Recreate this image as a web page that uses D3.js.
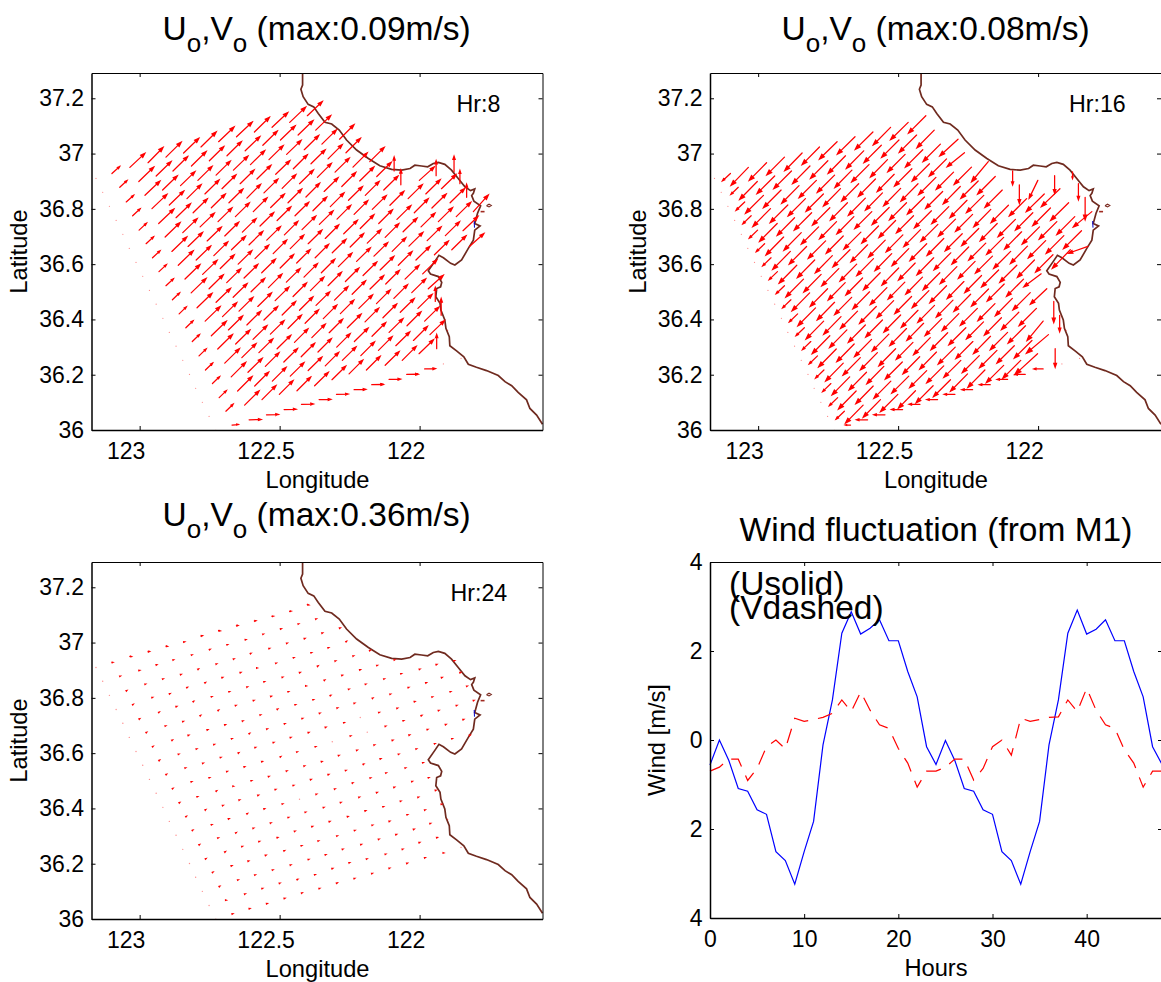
<!DOCTYPE html>
<html>
<head>
<meta charset="utf-8">
<script src="https://cdn.jsdelivr.net/npm/d3@7"></script>
<style>
  body { margin: 0; background: #fff; overflow: hidden; }
  text { font-family: "Liberation Sans", Arial, sans-serif; fill: #000; }
</style>
</head>
<body>
<div id="chart"></div>
<script>
// grid nodes, one list per row (degrees)
var gridLon = [
  [123.156,123.099,123.035,122.970,122.906,122.843,122.781,122.718,122.654,122.590,122.527,122.464,122.401],
  [123.132,123.071,123.003,122.941,122.881,122.815,122.751,122.688,122.623,122.560,122.497,122.434,122.371],
  [123.108,123.048,122.981,122.918,122.854,122.792,122.727,122.665,122.604,122.538,122.475,122.412,122.349,122.286],
  [123.084,123.025,122.956,122.894,122.831,122.767,122.706,122.641,122.581,122.514,122.451,122.388,122.327,122.263],
  [123.060,123.002,122.932,122.870,122.809,122.744,122.681,122.617,122.556,122.491,122.429,122.365,122.302,122.238,122.178],
  [123.037,122.977,122.909,122.846,122.784,122.720,122.658,122.594,122.532,122.470,122.406,122.341,122.278,122.214,122.153,122.091],
  [123.013,122.954,122.885,122.827,122.759,122.696,122.633,122.570,122.509,122.445,122.381,122.319,122.254,122.194,122.128,122.067,122.001,121.941,121.877],
  [122.989,122.931,122.862,122.798,122.735,122.672,122.609,122.546,122.483,122.420,122.358,122.295,122.234,122.169,122.106,122.041,121.978,121.922,121.856],
  [122.965,122.906,122.838,122.775,122.712,122.648,122.588,122.523,122.462,122.398,122.337,122.271,122.212,122.146,122.081,122.019,121.956,121.891,121.832],
  [122.941,122.883,122.816,122.752,122.689,122.627,122.564,122.498,122.439,122.373,122.312,122.248,122.187,122.123,122.059,121.995,121.933,121.869,121.808],
  [122.917,122.859,122.795,122.727,122.666,122.602,122.540,122.476,122.413,122.351,122.290,122.225,122.163,122.098,122.038,121.973,121.908,121.845],
  [122.894,122.835,122.766,122.704,122.645,122.578,122.516,122.452,122.390,122.327,122.265,122.202,122.141,122.076,122.013,121.947,121.885,121.822],
  [122.870,122.812,122.744,122.683,122.617,122.556,122.491,122.429,122.370,122.304,122.241,122.177,122.121,122.052,121.989],
  [122.846,122.788,122.721,122.657,122.595,122.533,122.470,122.409,122.344,122.283,122.217,122.154,122.092,122.028,121.969],
  [122.822,122.765,122.696,122.635,122.574,122.509,122.447,122.385,122.323,122.258,122.195,122.131,122.069,122.006,121.944],
  [122.800,122.740,122.673,122.613,122.551,122.485,122.423,122.363,122.296,122.233,122.170,122.109,122.045,121.982,121.923],
  [122.776,122.716,122.650,122.589,122.526,122.462,122.398,122.337,122.276,122.210,122.147,122.085,122.022,121.963,121.900],
  [122.752,122.692,122.625,122.563,122.501,122.438,122.375,122.313,122.252,122.190,122.123,122.062,122.002,121.939,121.852],
  [122.728,122.670,122.609,122.547,122.484,122.422,122.359,122.297,122.234,122.171,122.109,122.046,121.982,121.915]
];
var gridLat = [
  [36.910,36.928,36.950,36.967,36.987,37.002,37.024,37.043,37.061,37.078,37.095,37.113,37.137],
  [36.860,36.878,36.899,36.919,36.937,36.955,36.974,36.992,37.010,37.030,37.049,37.067,37.085],
  [36.809,36.825,36.849,36.868,36.884,36.903,36.922,36.940,36.960,36.978,36.997,37.014,37.034,37.052],
  [36.758,36.775,36.801,36.814,36.837,36.854,36.873,36.891,36.908,36.925,36.945,36.963,36.981,37.003],
  [36.708,36.723,36.747,36.768,36.786,36.804,36.822,36.839,36.858,36.874,36.891,36.914,36.933,36.951,36.971],
  [36.657,36.674,36.698,36.714,36.735,36.754,36.772,36.790,36.805,36.822,36.843,36.863,36.881,36.901,36.917,36.937],
  [36.606,36.623,36.646,36.664,36.684,36.702,36.716,36.738,36.758,36.775,36.793,36.808,36.831,36.849,36.868,36.887,36.903,36.920,36.934],
  [36.556,36.573,36.596,36.615,36.631,36.652,36.670,36.687,36.706,36.725,36.744,36.763,36.780,36.798,36.813,36.837,36.854,36.873,36.891],
  [36.505,36.522,36.546,36.563,36.584,36.600,36.620,36.638,36.656,36.674,36.693,36.710,36.729,36.747,36.762,36.786,36.803,36.822,36.842],
  [36.455,36.471,36.496,36.511,36.533,36.550,36.569,36.586,36.604,36.623,36.641,36.662,36.676,36.697,36.717,36.735,36.754,36.772,36.790],
  [36.404,36.420,36.442,36.462,36.480,36.500,36.515,36.535,36.553,36.569,36.591,36.610,36.629,36.646,36.665,36.685,36.703,36.721],
  [36.353,36.370,36.394,36.410,36.430,36.447,36.468,36.483,36.504,36.522,36.537,36.559,36.579,36.596,36.615,36.634,36.652,36.664],
  [36.303,36.320,36.341,36.362,36.380,36.398,36.416,36.433,36.451,36.470,36.491,36.510,36.528,36.546,36.565],
  [36.252,36.268,36.293,36.311,36.328,36.347,36.367,36.386,36.403,36.421,36.440,36.457,36.476,36.497,36.511],
  [36.201,36.217,36.242,36.262,36.280,36.294,36.317,36.334,36.352,36.370,36.391,36.406,36.426,36.440,36.465],
  [36.151,36.168,36.192,36.209,36.230,36.246,36.265,36.282,36.300,36.320,36.339,36.353,36.377,36.394,36.415],
  [36.100,36.117,36.141,36.159,36.177,36.195,36.215,36.232,36.252,36.269,36.288,36.305,36.324,36.345,36.360],
  [36.049,36.068,36.090,36.110,36.129,36.142,36.160,36.182,36.203,36.217,36.234,36.252,36.276,36.294,36.259],
  [35.999,36.018,36.037,36.055,36.074,36.093,36.110,36.129,36.146,36.164,36.183,36.201,36.221,36.239]
];

// currents at hour 8 (mm/s, u towards the right of the map, v up)
var u8 = [
  [0,31,60,60,61,61,61,62,63,60,63,64,60],
  [0,29,60,60,59,59,58,58,59,58,59,60,60],
  [0,30,60,59,58,57,57,58,57,57,58,58,58,58],
  [0,30,60,58,57,57,56,56,56,57,56,57,57,58],
  [0,30,61,58,57,56,56,55,56,55,56,56,57,57,58],
  [0,30,60,58,57,56,56,55,55,55,55,56,56,57,58,0],
  [0,30,60,58,57,56,55,55,55,55,55,55,56,56,57,0,60,0,0],
  [0,30,60,58,56,56,55,55,54,55,55,55,55,56,56,57,58,58,0],
  [0,30,60,58,56,55,55,54,54,55,54,55,55,55,56,56,57,58,0],
  [0,29,60,57,56,55,55,54,54,54,55,54,55,55,56,56,57,58,60],
  [0,29,60,58,56,55,54,55,54,54,54,55,55,55,56,56,57,60],
  [0,29,60,57,56,55,55,54,54,54,54,55,55,55,56,56,57,58],
  [0,29,60,57,56,55,54,54,55,54,54,55,55,56,57],
  [0,29,59,57,56,55,54,54,54,54,55,55,55,56,60],
  [0,29,59,57,56,55,54,54,54,55,55,55,56,57,0],
  [0,29,58,57,55,55,54,54,54,55,55,56,56,57,0],
  [0,29,58,56,55,55,55,54,55,55,55,56,56,58,0],
  [0,29,58,56,55,55,55,55,55,55,56,56,58,0,0],
  [0,25,48,48,48,48,47,47,47,47,46,46,43,0]
];
var v8 = [
  [0,28,56,61,60,59,60,59,59,59,59,61,57],
  [0,27,58,58,58,58,57,57,57,57,57,58,58],
  [0,27,57,57,56,56,56,56,56,56,56,57,57,58],
  [0,28,57,56,56,56,55,55,55,55,56,56,57,58],
  [0,28,58,56,56,55,55,55,55,55,55,56,56,57,57],
  [0,28,58,56,55,55,55,55,54,55,55,55,56,56,57,56],
  [0,28,58,56,55,55,54,54,54,54,55,55,55,56,56,60,54,60,63],
  [0,28,58,56,55,54,54,54,54,54,54,55,55,55,56,56,57,56,53],
  [0,28,58,56,55,54,54,54,54,54,54,54,55,55,55,56,56,57,52],
  [0,28,58,56,55,54,54,54,54,54,54,54,54,55,55,55,56,57,67],
  [0,28,58,56,55,54,54,54,54,54,54,54,54,55,55,55,56,57],
  [0,28,58,56,55,54,54,54,54,54,54,54,54,55,55,55,56,52],
  [0,28,58,56,55,54,54,54,54,54,54,54,55,55,56],
  [0,28,58,56,55,54,54,54,54,54,54,55,55,55,54],
  [0,28,58,56,55,54,54,54,54,54,55,55,55,56,56],
  [0,28,58,56,55,54,54,54,54,54,55,55,56,56,67],
  [0,28,58,56,55,54,54,54,54,55,55,55,56,56,0],
  [0,28,57,56,55,55,54,54,55,55,55,56,56,57,0],
  [0,2,1,1,1,1,1,1,1,1,1,1,1,0]
];

// currents at hour 16
var u16 = [
  [0,-26,-56,-56,-57,-56,-56,-57,-57,-57,-56,-57,-56],
  [0,-24,-57,-57,-57,-56,-56,-56,-56,-56,-56,-56,-56],
  [0,-28,-58,-57,-56,-56,-56,-55,-56,-55,-56,-56,-56,-59],
  [0,-27,-57,-57,-56,-56,-55,-55,-55,-55,-56,-56,-56,-56],
  [0,-27,-57,-56,-56,-56,-55,-55,-55,-55,-55,-56,-56,-56,-54],
  [0,-27,-57,-56,-56,-55,-55,-55,-55,-55,-55,-55,-55,-56,-57,0],
  [0,-27,-57,-56,-56,-55,-55,-54,-54,-55,-55,-55,-55,-56,-56,0,-28,0,0],
  [0,-27,-57,-56,-55,-55,-54,-54,-54,-54,-55,-55,-55,-55,-56,-56,-58,-60,0],
  [0,-27,-57,-56,-55,-54,-54,-54,-54,-54,-54,-55,-55,-55,-56,-56,-57,-58,0],
  [0,-27,-57,-56,-55,-54,-54,-54,-54,-54,-54,-54,-55,-55,-55,-56,-57,-58,-60],
  [0,-27,-57,-56,-55,-54,-54,-54,-54,-54,-54,-54,-55,-55,-55,-56,-57,-58],
  [0,-27,-57,-56,-55,-54,-54,-54,-54,-54,-54,-54,-55,-55,-55,-56,-58,-63],
  [0,-27,-57,-56,-55,-54,-54,-54,-54,-54,-54,-55,-55,-55,-56],
  [0,-27,-57,-56,-55,-54,-54,-54,-54,-54,-55,-55,-55,-56,-53],
  [0,-27,-57,-56,-55,-54,-54,-54,-54,-55,-55,-55,-56,-56,0],
  [0,-27,-57,-56,-55,-55,-54,-54,-55,-55,-55,-56,-56,-52,0],
  [0,-27,-57,-56,-55,-55,-55,-55,-55,-55,-56,-56,-57,-71,0],
  [0,-27,-57,-56,-56,-55,-55,-55,-55,-55,-56,-58,-73,0,0],
  [0,-17,-36,-36,-36,-35,-35,-35,-35,-35,-34,-33,-30,0]
];
var v16 = [
  [0,-24,-58,-57,-57,-57,-57,-56,-56,-56,-57,-56,-56],
  [0,-23,-58,-57,-57,-57,-57,-57,-57,-56,-56,-56,-57],
  [0,-27,-58,-57,-57,-56,-56,-56,-56,-56,-56,-56,-56,-54],
  [0,-26,-58,-57,-56,-56,-56,-56,-56,-56,-56,-56,-56,-45],
  [0,-26,-58,-57,-56,-56,-56,-56,-56,-56,-56,-56,-56,-56,-65],
  [0,-26,-58,-57,-56,-56,-56,-55,-55,-55,-55,-55,-56,-56,-57,-45],
  [0,-26,-58,-57,-56,-56,-55,-55,-55,-55,-55,-55,-56,-56,-56,-60,-58,-57,-22],
  [0,-26,-58,-57,-56,-55,-55,-55,-55,-55,-55,-55,-55,-56,-56,-56,-57,-58,-52],
  [0,-26,-58,-57,-56,-55,-55,-55,-55,-55,-55,-55,-55,-56,-56,-56,-57,-57,-73],
  [0,-26,-58,-57,-56,-55,-55,-55,-55,-55,-55,-55,-55,-55,-56,-56,-57,-58,-50],
  [0,-26,-58,-57,-56,-55,-55,-55,-55,-55,-55,-55,-55,-55,-56,-56,-57,-58],
  [0,-26,-58,-57,-56,-55,-55,-55,-55,-55,-55,-55,-55,-55,-56,-56,-60,-22],
  [0,-26,-58,-57,-56,-55,-55,-55,-55,-55,-55,-55,-55,-56,-42],
  [0,-26,-58,-57,-56,-55,-55,-55,-55,-55,-55,-55,-56,-56,-50],
  [0,-26,-58,-57,-56,-55,-55,-55,-55,-55,-55,-56,-56,-56,-68],
  [0,-26,-58,-57,-56,-55,-55,-55,-55,-55,-56,-56,-56,-63,-53],
  [0,-26,-58,-57,-56,-55,-55,-55,-55,-55,-56,-56,-57,-60,0],
  [0,-26,-58,-57,-56,-56,-55,-55,-56,-56,-56,-58,-67,-60,0],
  [0,0,0,0,0,0,0,0,0,0,0,0,0,0]
];

// currents at hour 24 (slack water, barely more than dots)
var u24 = [
  [0,6,9,8,8,6,8,9,8,8,8,8,8],
  [0,3,5,3,3,3,4,3,4,3,4,3,3],
  [0,3,3,3,3,3,3,3,2,3,3,3,3,3],
  [0,3,3,4,2,3,3,3,1,3,3,3,3,3],
  [0,3,3,3,3,3,3,3,3,3,3,3,3,3,2],
  [0,3,3,3,3,3,3,3,3,3,1,3,3,3,3,3],
  [0,3,3,3,3,3,3,3,3,3,3,2,3,3,3,3,3,3,3],
  [0,3,3,3,3,3,3,3,3,3,3,3,3,3,3,3,3,3,3],
  [0,3,3,3,3,3,3,3,3,3,3,3,0,3,3,3,3,3,3],
  [0,3,3,3,3,3,3,3,3,3,0,3,0,3,3,4,3,3,3],
  [0,3,3,3,1,3,3,3,3,3,3,3,3,3,3,3,3,3],
  [0,3,3,3,3,3,3,3,3,3,3,4,3,3,3,3,3,3],
  [0,3,3,3,3,3,3,0,3,3,4,3,3,3,3],
  [0,3,3,3,3,3,3,3,3,3,3,3,3,3,3],
  [0,3,3,3,3,3,3,3,3,3,3,3,3,3,3],
  [0,3,3,3,3,4,3,3,3,3,3,3,3,3,3],
  [0,3,3,3,3,3,3,3,3,3,3,3,3,3,0],
  [0,1,3,3,3,4,3,3,3,3,3,3,3,3,0],
  [0,4,4,4,4,4,3,4,3,3,3,3,3,1]
];
var v24 = [
  [0,1,-1,1,-1,1,1,-1,1,1,1,1,-1],
  [0,1,1,1,1,1,2,1,1,1,1,1,1],
  [0,2,1,1,1,2,1,1,1,1,1,1,1,1],
  [0,2,1,2,1,2,1,1,0,1,1,1,1,2],
  [0,2,2,1,2,1,1,1,1,1,1,2,1,1,1],
  [0,2,1,1,2,2,1,1,1,1,0,2,1,1,1,1],
  [0,2,2,1,1,1,1,1,2,1,1,1,1,1,1,1,1,1,1],
  [0,2,1,1,1,1,2,1,1,1,1,1,1,2,1,1,1,1,1],
  [0,2,1,1,1,2,1,1,1,1,1,1,0,1,1,1,1,1,1],
  [0,2,1,1,1,1,1,2,1,1,0,1,0,1,1,2,1,1,1],
  [0,2,1,2,0,1,1,1,1,1,1,1,1,1,1,1,1,1],
  [0,2,2,1,1,1,1,1,1,1,1,2,1,1,1,1,1,1],
  [0,2,1,1,2,1,1,0,1,1,2,1,1,1,1],
  [0,2,1,2,1,1,1,1,1,1,1,1,1,1,1],
  [0,2,2,1,1,1,1,1,1,1,1,1,1,1,1],
  [0,2,1,1,1,2,1,1,1,1,1,1,1,1,1],
  [0,2,1,1,1,1,1,1,1,1,1,1,1,1,0],
  [0,0,1,1,1,2,1,1,1,1,1,1,1,1,0],
  [0,1,1,1,1,2,1,2,1,1,1,1,1,0]
];

// coastline
var coastLon = [122.418,122.418,122.424,122.416,122.398,122.378,122.362,122.338,122.314,122.287,122.261,122.225,122.183,122.142,122.100,122.064,122.034,122.017,121.993,121.971,121.951,121.933,121.910,121.886,121.862,121.838,121.818,121.803,121.808,121.814,121.806,121.782,121.793,121.803,121.784,121.803,121.808,121.826,121.850,121.874,121.889,121.915,121.931,121.945,121.969,121.961,121.933,121.921,121.925,121.939,121.942,121.927,121.924,121.910,121.906,121.894,121.892,121.868,121.842,121.826,121.797,121.761,121.719,121.695,121.671,121.648,121.618,121.606,121.582,121.561];
var coastLat = [37.290,37.248,37.233,37.206,37.178,37.169,37.145,37.113,37.107,37.085,37.049,37.013,36.982,36.956,36.943,36.940,36.946,36.958,36.955,36.952,36.964,36.968,36.961,36.940,36.910,36.880,36.866,36.872,36.856,36.848,36.828,36.811,36.784,36.747,36.738,36.723,36.687,36.657,36.615,36.597,36.603,36.623,36.632,36.611,36.576,36.564,36.555,36.534,36.518,36.512,36.482,36.458,36.434,36.398,36.368,36.338,36.305,36.286,36.265,36.238,36.227,36.215,36.197,36.175,36.160,36.136,36.109,36.078,36.054,36.021];
var islandLon = [121.761,121.752,121.744,121.752,121.761];
var islandLat = [36.811,36.817,36.812,36.807,36.811];
var rockLon = [121.782,121.768];
var rockLat = [36.790,36.790];
var shoalLon = [121.805,121.804];
var shoalLat = [36.756,36.732];

// wind record, hourly
var windHours = d3.range(0, 49);
var windU = [-0.56,0,-0.46,-1.09,-1.15,-1.57,-1.67,-2.51,-2.71,-3.24,-2.51,-1.83,-0.11,0.90,2.40,2.88,2.38,2.51,2.70,2.23,2.23,1.54,0.97,-0.15,-0.55,-0.01,-0.46,-1.09,-1.15,-1.57,-1.67,-2.51,-2.71,-3.24,-2.51,-1.83,-0.11,0.90,2.40,2.92,2.38,2.49,2.70,2.23,2.23,1.54,0.97,-0.15,-0.55];
var windV = [-0.70,-0.61,-0.43,-0.43,-0.91,-0.64,-0.15,0,-0.20,0.49,0.42,0.46,0.51,0.60,0.90,0.64,1.08,0.67,0.34,0.26,-0.19,-0.52,-1.06,-0.70,-0.70,-0.61,-0.43,-0.43,-0.90,-0.64,-0.15,0,-0.34,0.49,0.42,0.46,0.51,0.52,0.90,0.64,1.16,0.67,0.34,0.26,-0.22,-0.52,-1.06,-0.70,-0.70];

var lonTicks = [123, 122.5, 122];
var latTicks = [37.2, 37, 36.8, 36.6, 36.4, 36.2, 36];
var windXTicks = [0, 10, 20, 30, 40];
var windYTicks = [4, 2, 0, -2, -4];
var windYLabels = ["4", "2", "0", "2", "4"];

var svg = d3.select("#chart").append("svg")
  .attr("width", 1161)
  .attr("height", 982);

// Ticks point inwards on all four sides, labels only on the left and bottom
function drawFrame(g, x, y, xTicks, yTicks, xFormat, yFormat, w, h, labelShift){
  var bottom = g.append("g")
    .attr("transform", "translate(0," + h + ")")
    .call(d3.axisBottom(x).tickValues(xTicks).tickSizeInner(-4).tickSizeOuter(0).tickPadding(13).tickFormat(xFormat));
  var top = g.append("g")
    .call(d3.axisTop(x).tickValues(xTicks).tickSizeInner(-4).tickSizeOuter(0).tickFormat(""));
  var left = g.append("g")
    .call(d3.axisLeft(y).tickValues(yTicks).tickSizeInner(-4).tickSizeOuter(0).tickPadding(7.5).tickFormat(yFormat));
  var right = g.append("g")
    .attr("transform", "translate(" + w + ",0)")
    .call(d3.axisRight(y).tickValues(yTicks).tickSizeInner(-4).tickSizeOuter(0).tickFormat(""));

  [bottom, left].forEach(function(a){
    a.select(".domain").attr("stroke", "#000").attr("stroke-width", 1.5);
  });
  [top, right].forEach(function(a){
    a.select(".domain").attr("stroke", "#000").attr("stroke-width", 1);
  });
  g.selectAll(".tick line").attr("stroke", "#000").attr("stroke-width", 1);
  g.selectAll(".tick text").attr("fill", "#000").style("font-size", "23px")
    .style("font-family", "'Liberation Sans', Arial, sans-serif");

  // the original figure sets its longitude labels left of their ticks
  bottom.selectAll(".tick text").attr("dx", labelShift);
}

function arrowPath(d, x, y, scale){
  var x0 = x(d.lon), y0 = y(d.lat);
  var dx = d.u * scale, dy = -d.v * scale;
  var len = Math.sqrt(dx * dx + dy * dy);
  var x1 = x0 + dx, y1 = y0 + dy;
  if (len == 0) return "M" + x0 + "," + y0 + "L" + x0 + "," + y0;
  var a = Math.atan2(dy, dx), hl = len * 0.2 + 0.4, spread = 0.33;
  return "M" + x0 + "," + y0 + "L" + x1 + "," + y1 +
    "M" + (x1 - hl * Math.cos(a - spread)) + "," + (y1 - hl * Math.sin(a - spread)) +
    "L" + x1 + "," + y1 +
    "L" + (x1 - hl * Math.cos(a + spread)) + "," + (y1 - hl * Math.sin(a + spread)) + "Z";
}

function drawMap(opts){
  var w = opts.width, h = opts.height;
  var g = svg.append("g").attr("transform", "translate(" + opts.left + "," + opts.top + ")");

  var x = d3.scaleLinear().domain([123.172, 121.561]).range([0, w]);
  var y = d3.scaleLinear().domain([36, 37.2915]).range([h, 0]);

  // flatten the rows into one list of nodes
  var nodes = [];
  gridLon.forEach(function(row, i){
    row.forEach(function(lon, j){
      nodes.push({lon: lon, lat: gridLat[i][j], u: opts.u[i][j], v: opts.v[i][j]});
    });
  });

  var line = d3.line()
    .x(function(d){ return x(d[0]); })
    .y(function(d){ return y(d[1]); });

  function drawCoast(lons, lats, color, width){
    g.append("path")
      .datum(d3.zip(lons, lats))
      .attr("d", line)
      .attr("fill", "none")
      .attr("stroke", color)
      .attr("stroke-width", width);
  }

  drawCoast(coastLon, coastLat, "#6f2a1f", 1.7);
  drawCoast(islandLon, islandLat, "#7a2a20", 1.2);
  drawCoast(rockLon, rockLat, "#a02a20", 1.6);
  drawCoast(shoalLon, shoalLat, "#0000c8", 1);

  g.selectAll(".arrow")
    .data(nodes)
    .enter().append("path")
    .attr("class", "arrow")
    .attr("d", function(d){ return arrowPath(d, x, y, opts.scale); })
    .attr("fill", "#ff0000")
    .attr("stroke", "#ff0000")
    .attr("stroke-width", opts.weight)
    .attr("stroke-opacity", function(d){ return (d.u == 0 && d.v == 0) ? 0.45 : 1; })
    .attr("stroke-linecap", "round");

  drawFrame(g, x, y, lonTicks, latTicks, d3.format(""), d3.format(""), w, h, -14);

  g.append("text")
    .attr("x", w / 2 + 0.5)
    .attr("y", h + 58)
    .attr("text-anchor", "middle")
    .style("font-size", "23.7px")
    .text("Longitude");

  g.append("text")
    .attr("text-anchor", "middle")
    .attr("transform", "translate(-64.5," + (h / 2) + ")rotate(-90)")
    .style("font-size", "23.7px")
    .text("Latitude");

  g.append("text")
    .attr("x", opts.hrX)
    .attr("y", 38.7)
    .style("font-size", "23.2px")
    .text(opts.hr);

  // title with subscripts
  var title = g.append("text")
    .attr("x", opts.titleX)
    .attr("y", opts.titleY)
    .style("font-size", "33.5px");
  title.append("tspan").text("U");
  title.append("tspan").attr("dy", 12).style("font-size", "26px").text("o");
  title.append("tspan").attr("dy", -12).text(",V");
  title.append("tspan").attr("dy", 12).style("font-size", "26px").text("o");
  title.append("tspan").attr("dy", -12).text(" (max:" + opts.maxLabel + "m/s)");
}

drawMap({left: 91.5, top: 73, width: 451, height: 357, u: u8, v: v8, scale: 0.25, weight: 1.25,
  hr: "Hr:8", hrX: 365, titleX: 71, titleY: -33, maxLabel: "0.09"});
drawMap({left: 710, top: 73, width: 451, height: 357, u: u16, v: v16, scale: 0.31, weight: 1.25,
  hr: "Hr:16", hrX: 359, titleX: 71.5, titleY: -33, maxLabel: "0.08"});
drawMap({left: 91.5, top: 562, width: 451, height: 357, u: u24, v: v24, scale: 0.15, weight: 1.4,
  hr: "Hr:24", hrX: 359, titleX: 71, titleY: -36, maxLabel: "0.36"});

// Wind panel
var wind = svg.append("g").attr("transform", "translate(710,562)");
var windW = 452, windH = 356;
var xWind = d3.scaleLinear().domain([0, 48]).range([0, windW]);
var yWind = d3.scaleLinear().domain([-4, 4]).range([windH, 0]);

var windLine = d3.line()
  .x(function(d){ return xWind(d[0]); })
  .y(function(d){ return yWind(d[1]); });

wind.append("path")
  .datum(d3.zip(windHours, windU))
  .attr("d", windLine)
  .attr("fill", "none")
  .attr("stroke", "#0000ff")
  .attr("stroke-width", 1.2);

wind.append("path")
  .datum(d3.zip(windHours, windV))
  .attr("d", windLine)
  .attr("fill", "none")
  .attr("stroke", "#ff0000")
  .attr("stroke-width", 1.2)
  .attr("stroke-dasharray", "15,10");

drawFrame(wind, xWind, yWind, windXTicks, windYTicks, d3.format(""), function(d, i){ return windYLabels[i]; }, windW, windH, 0);

wind.append("text")
  .attr("x", windW / 2)
  .attr("y", -21)
  .attr("text-anchor", "middle")
  .style("font-size", "33.5px")
  .text("Wind fluctuation (from M1)");

wind.append("text").attr("x", 19).attr("y", 33).style("font-size", "33.5px").text("(Usolid)");
wind.append("text").attr("x", 19).attr("y", 56.5).style("font-size", "33.5px").text("(Vdashed)");

wind.append("text")
  .attr("x", windW / 2)
  .attr("y", windH + 58)
  .attr("text-anchor", "middle")
  .style("font-size", "23.7px")
  .text("Hours");

wind.append("text")
  .attr("text-anchor", "middle")
  .attr("transform", "translate(-45," + (windH / 2) + ")rotate(-90)")
  .style("font-size", "23.7px")
  .text("Wind [m/s]");
</script>
</body>
</html>
